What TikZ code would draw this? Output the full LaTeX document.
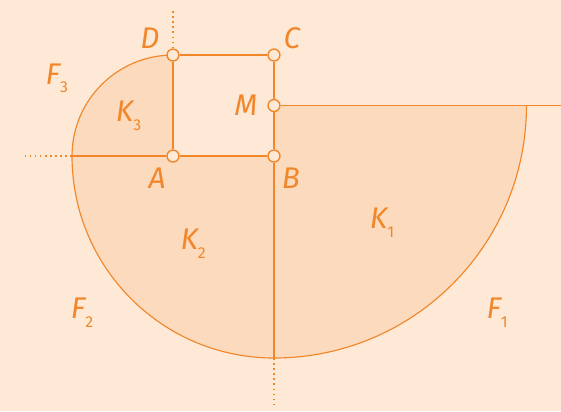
\documentclass[tikz,border=0pt]{standalone}
\usepackage{fontspec}
\setmainfont{Fira Sans}
\usepackage{xcolor}
\usepackage{tikz}
\usetikzlibrary{positioning,calc}
\definecolor{bgpeach}{RGB}{253,233,214}
\definecolor{fillpeach}{RGB}{252,218,189}
\definecolor{lineorange}{RGB}{241,135,42}
\newcommand{\lowidx}[1]{\raisebox{-0.55ex}{\fontsize{9}{10}\selectfont\upshape #1}}

\begin{document}
\begin{tikzpicture}[x=2.02cm, y=2.02cm, font=\fontsize{17}{19}\selectfont\itshape,
  edge/.style={lineorange, line width=0.9pt},
  arcline/.style={lineorange, line width=0.65pt},
  guide/.style={lineorange, line width=0.9pt, dotted},
  vertex/.style={circle, draw=lineorange, fill=bgpeach, line width=0.8pt,
    inner sep=0pt, minimum size=6.8pt},
  lbl/.style={text=lineorange}]
% background and bounding box
\fill[bgpeach] (-2.713,-2.525) rectangle (2.842,1.545);
\useasboundingbox (-2.713,-2.525) rectangle (2.842,1.545);
% quarter discs
\fill[fillpeach] (-1,0) -- (-1,1) arc[start angle=90, end angle=180, radius=1] -- cycle;
\fill[fillpeach] (0,0) -- (-2,0) arc[start angle=180, end angle=270, radius=2] -- cycle;
\fill[fillpeach] (0,0.5) -- (0,-2) arc[start angle=270, end angle=360, radius=2.5] -- cycle;
% spiral arcs
\draw[arcline] (-1,1) arc[start angle=90, end angle=180, radius=1]
  arc[start angle=180, end angle=270, radius=2]
  arc[start angle=270, end angle=360, radius=2.5];
% points
\node[vertex] (A) at (-1,0) {};
\node[vertex] (B) at (0,0) {};
\node[vertex] (C) at (0,1) {};
\node[vertex] (D) at (-1,1) {};
\node[vertex] (M) at (0,0.5) {};
\coordinate (W) at (-2,0);
\coordinate (S) at (0,-2);
\coordinate (E) at (2.842,0.5);
\coordinate (Dtop) at (-1,1.465);
\coordinate (Wend) at (-2.495,0);
\coordinate (Send) at (0,-2.495);
% sides
\draw[edge] (A) -- (B);
\draw[edge] (A) -- (D);
\draw[edge] (D) -- (C);
\draw[edge] (C) -- (M);
\draw[edge] (M) -- (B);
\draw[edge] (W) -- (A);
\draw[edge] (B) -- (S);
\draw[edge] (M) -- (E);
% extensions
\draw[guide] (D) -- (Dtop);
\draw[guide] (W) -- (Wend);
\draw[guide] (S) -- (Send);
% labels
\node[lbl] (labD) at (-1.228,1.168) {D};
\node[lbl] (labC) at (0.178,1.168) {C};
\node[lbl] (labM) at (-0.277,0.505) {M};
\node[lbl] (labA) at (-1.158,-0.218) {A};
\node[lbl] (labB) at (0.168,-0.218) {B};
\node[lbl] (labK3) at (-1.44,0.40) {K\lowidx{3}};
\node[lbl] (labK2) at (-0.80,-0.87) {K\lowidx{2}};
\node[lbl] (labK1) at (1.07,-0.66) {K\lowidx{1}};
\node[lbl] (labF3) at (-2.15,0.77) {F\lowidx{3}};
\node[lbl] (labF2) at (-1.90,-1.55) {F\lowidx{2}};
\node[lbl] (labF1) at (2.21,-1.55) {F\lowidx{1}};
\end{tikzpicture}
\end{document}
